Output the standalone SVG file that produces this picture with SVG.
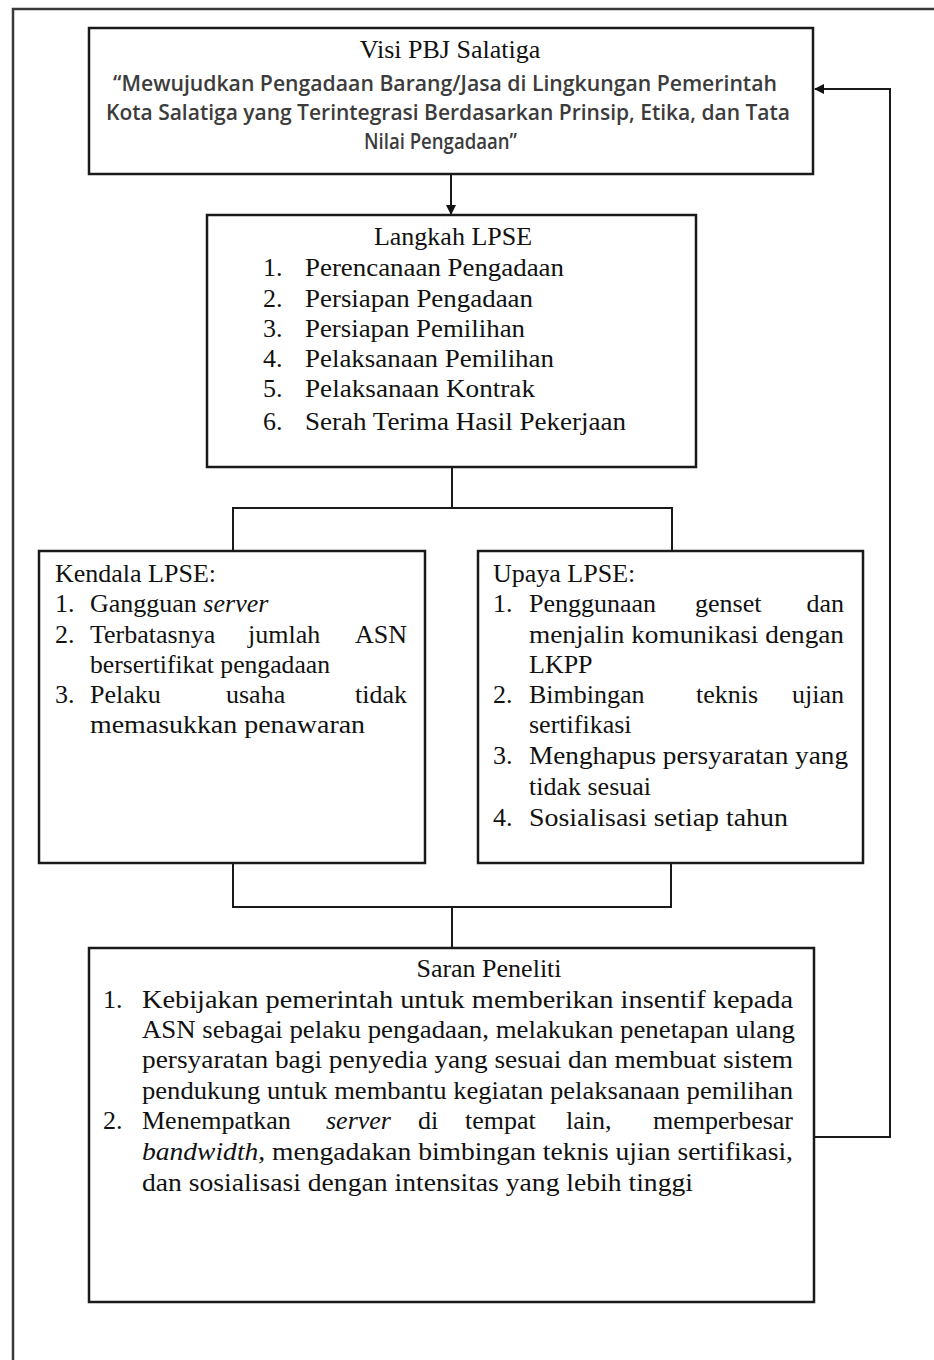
<svg xmlns="http://www.w3.org/2000/svg" width="934" height="1360" viewBox="0 0 934 1360">
<style>
.box{fill:#fff;stroke:#1a1a1a;stroke-width:2.5}
.frame{fill:none;stroke:#3a3a3a;stroke-width:2.5}
.con{fill:none;stroke:#1a1a1a;stroke-width:2}
.t{font-family:"Liberation Serif","Times New Roman",serif;font-size:26px;fill:#111}
.q{font-family:"Open Sans","Liberation Sans",sans-serif;font-weight:600;font-size:21px;fill:#3c3c3c}
.i{font-style:italic}
.e{text-anchor:end}
.m{text-anchor:middle}
</style>
<defs>
<marker id="ah" markerUnits="userSpaceOnUse" markerWidth="10" markerHeight="10" refX="9" refY="5" orient="auto">
<path d="M0,0 L10,5 L0,10 z" fill="#111"/>
</marker>
</defs>
<rect width="934" height="1360" fill="#fff"/>
<path class="frame" d="M13,1362 V9 H936"/>

<g id="connectors">
<line class="con" x1="451" y1="174" x2="451" y2="214" marker-end="url(#ah)"/>
<path class="con" d="M452,467 V508 M233,551 V508 H672 V551"/>
<path class="con" d="M233,863 V907 H671 V863 M452,907 V948"/>
<path class="con" d="M814,1137 H890 V89 H815" marker-end="url(#ah)"/>
</g>

<g id="visi">
<rect class="box" x="89" y="28" width="724" height="146"/>
<text class="t m" x="450" y="58">Visi PBJ Salatiga</text>
<text class="q" x="113" y="91" textLength="664" lengthAdjust="spacingAndGlyphs">“Mewujudkan Pengadaan Barang/Jasa di Lingkungan Pemerintah</text>
<text class="q" x="106" y="120" textLength="684" lengthAdjust="spacingAndGlyphs">Kota Salatiga yang Terintegrasi Berdasarkan Prinsip, Etika, dan Tata</text>
<text class="q" x="364" y="149" textLength="153" lengthAdjust="spacingAndGlyphs">Nilai Pengadaan”</text>
</g>

<g id="langkah">
<rect class="box" x="207" y="215" width="489" height="252"/>
<text class="t m" x="453" y="245">Langkah LPSE</text>
<text class="t" x="263" y="276">1.</text><text class="t" x="305" y="276" textLength="259" lengthAdjust="spacingAndGlyphs">Perencanaan Pengadaan</text>
<text class="t" x="263" y="307">2.</text><text class="t" x="305" y="307" textLength="228" lengthAdjust="spacingAndGlyphs">Persiapan Pengadaan</text>
<text class="t" x="263" y="337">3.</text><text class="t" x="305" y="337" textLength="220" lengthAdjust="spacingAndGlyphs">Persiapan Pemilihan</text>
<text class="t" x="263" y="367">4.</text><text class="t" x="305" y="367" textLength="249" lengthAdjust="spacingAndGlyphs">Pelaksanaan Pemilihan</text>
<text class="t" x="263" y="397">5.</text><text class="t" x="305" y="397" textLength="230" lengthAdjust="spacingAndGlyphs">Pelaksanaan Kontrak</text>
<text class="t" x="263" y="430">6.</text><text class="t" x="305" y="430" textLength="321" lengthAdjust="spacingAndGlyphs">Serah Terima Hasil Pekerjaan</text>
</g>

<g id="kendala">
<rect class="box" x="39" y="551" width="386" height="312"/>
<text class="t" x="55" y="582">Kendala LPSE:</text>
<text class="t" x="55" y="612">1.</text><text class="t" x="90" y="612">Gangguan <tspan class="i">server</tspan></text>
<text class="t" x="55" y="643">2.</text><text class="t" x="90" y="643">Terbatasnya</text><text class="t" x="248" y="643">jumlah</text><text class="t e" x="407" y="643">ASN</text>
<text class="t" x="90" y="673" textLength="240" lengthAdjust="spacingAndGlyphs">bersertifikat pengadaan</text>
<text class="t" x="55" y="703">3.</text><text class="t" x="90" y="703">Pelaku</text><text class="t" x="226" y="703">usaha</text><text class="t e" x="407" y="703">tidak</text>
<text class="t" x="90" y="733" textLength="275" lengthAdjust="spacingAndGlyphs">memasukkan penawaran</text>
</g>

<g id="upaya">
<rect class="box" x="478" y="551" width="385" height="312"/>
<text class="t" x="493" y="582">Upaya LPSE:</text>
<text class="t" x="493" y="612">1.</text><text class="t" x="529" y="612">Penggunaan</text><text class="t" x="695" y="612">genset</text><text class="t e" x="844" y="612">dan</text>
<text class="t" x="529" y="643" textLength="315" lengthAdjust="spacingAndGlyphs">menjalin komunikasi dengan</text>
<text class="t" x="529" y="673">LKPP</text>
<text class="t" x="493" y="703">2.</text><text class="t" x="529" y="703">Bimbingan</text><text class="t" x="696" y="703">teknis</text><text class="t e" x="844" y="703">ujian</text>
<text class="t" x="529" y="733">sertifikasi</text>
<text class="t" x="493" y="764">3.</text><text class="t" x="529" y="764" textLength="319" lengthAdjust="spacingAndGlyphs">Menghapus persyaratan yang</text>
<text class="t" x="529" y="795">tidak sesuai</text>
<text class="t" x="493" y="826">4.</text><text class="t" x="529" y="826" textLength="259" lengthAdjust="spacingAndGlyphs">Sosialisasi setiap tahun</text>
</g>

<g id="saran">
<rect class="box" x="89" y="948" width="725" height="354"/>
<text class="t m" x="489" y="977">Saran Peneliti</text>
<text class="t" x="103" y="1008">1.</text><text class="t" x="142" y="1008" textLength="651" lengthAdjust="spacingAndGlyphs">Kebijakan pemerintah untuk memberikan insentif kepada</text>
<text class="t" x="142" y="1038" textLength="653" lengthAdjust="spacingAndGlyphs">ASN sebagai pelaku pengadaan, melakukan penetapan ulang</text>
<text class="t" x="142" y="1068" textLength="651" lengthAdjust="spacingAndGlyphs">persyaratan bagi penyedia yang sesuai dan membuat sistem</text>
<text class="t" x="142" y="1099" textLength="651" lengthAdjust="spacingAndGlyphs">pendukung untuk membantu kegiatan pelaksanaan pemilihan</text>
<text class="t" x="103" y="1129">2.</text><text class="t" x="142" y="1129">Menempatkan</text><text class="t i" x="326" y="1129">server</text><text class="t" x="418" y="1129">di</text><text class="t" x="465" y="1129">tempat</text><text class="t" x="566" y="1129">lain,</text><text class="t e" x="793" y="1129">memperbesar</text>
<text class="t" x="142" y="1160" textLength="651" lengthAdjust="spacingAndGlyphs"><tspan class="i">bandwidth,</tspan> mengadakan bimbingan teknis ujian sertifikasi,</text>
<text class="t" x="142" y="1191" textLength="551" lengthAdjust="spacingAndGlyphs">dan sosialisasi dengan intensitas yang lebih tinggi</text>
</g>
</svg>
